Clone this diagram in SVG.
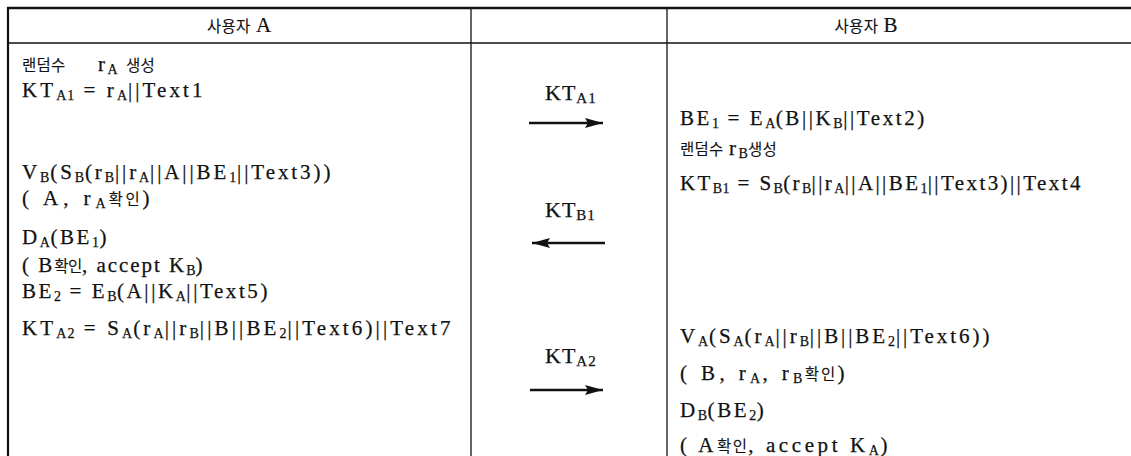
<svg xmlns="http://www.w3.org/2000/svg" width="1131" height="456" viewBox="0 0 1131 456">
<style>
.bg{fill:#fff}
.ln{stroke:#111;fill:none}
.t{font-family:"Liberation Serif","Noto Sans CJK KR",serif;font-size:21px;fill:#111;stroke:#111;stroke-width:0.25;letter-spacing:2.6px}
.k{font-family:"Noto Sans CJK KR",sans-serif;font-size:15.5px;letter-spacing:0.3px;stroke-width:0.1}
.s{font-size:14px;letter-spacing:0.5px}
.m{font-family:"Liberation Serif",serif;font-size:22px;fill:#111;stroke:#111;stroke-width:0.25;letter-spacing:1px}
.ms{font-size:15px}
.h{font-family:"Liberation Serif","Noto Sans CJK KR",serif;font-size:21px;fill:#111;stroke:#111;stroke-width:0.2}
.arr{stroke:#111;stroke-width:2.5;fill:none;marker-end:url(#ah)}
</style>
<defs>
<marker id="ah" markerUnits="userSpaceOnUse" markerWidth="20" markerHeight="12" refX="18" refY="5" orient="auto">
<path d="M0,0 L18,5 L0,10 L3,5 z" fill="#111"/>
</marker>
</defs>
<rect class="bg" x="0" y="0" width="1131" height="456"/>
<g id="table">
<line class="ln" x1="7" y1="8" x2="1131" y2="8" stroke-width="2.5"/>
<line class="ln" x1="7" y1="43" x2="1131" y2="43" stroke-width="1.5"/>
<line class="ln" x1="8" y1="7" x2="8" y2="456" stroke-width="2.2"/>
<line class="ln" x1="471" y1="8" x2="471" y2="456" stroke-width="1.3"/>
<line class="ln" x1="667" y1="8" x2="667" y2="456" stroke-width="1.3"/>
</g>
<g id="header-a">
<text class="h" x="239" y="32" text-anchor="middle"><tspan class="k" font-size="19">사용자</tspan> A</text>
</g>
<g id="header-b">
<text class="h" x="866" y="32" text-anchor="middle"><tspan class="k" font-size="19">사용자</tspan> B</text>
</g>
<g id="user-a">
<text class="t" x="22" y="71"><tspan class="k" font-size="15px">랜덤수</tspan><tspan x="98">r</tspan><tspan class="s" dy="3">A</tspan><tspan class="k" font-size="15px" x="126" dy="-3">생성</tspan></text>
<text class="t" x="22" y="97" textLength="183" lengthAdjust="spacing">KT<tspan class="s" dy="3">A1</tspan><tspan dy="-3"> = r</tspan><tspan class="s" dy="3">A</tspan><tspan dy="-3">||Text1</tspan></text>
<text class="t" x="22" y="179" textLength="311" lengthAdjust="spacing">V<tspan class="s" dy="3">B</tspan><tspan dy="-3">(S</tspan><tspan class="s" dy="3">B</tspan><tspan dy="-3">(r</tspan><tspan class="s" dy="3">B</tspan><tspan dy="-3">||r</tspan><tspan class="s" dy="3">A</tspan><tspan dy="-3">||A||BE</tspan><tspan class="s" dy="3">1</tspan><tspan dy="-3">||Text3))</tspan></text>
<text class="t" x="22" y="205" textLength="130" lengthAdjust="spacing">( A, r<tspan class="s" dy="3">A</tspan><tspan class="k" dy="-3">확인</tspan>)</text>
<text class="t" x="22" y="244">D<tspan class="s" dy="3">A</tspan><tspan dy="-3">(BE</tspan><tspan class="s" dy="3">1</tspan><tspan dy="-3">)</tspan></text>
<text class="t" x="22" y="272" textLength="183" lengthAdjust="spacing">( B<tspan class="k">확인</tspan>, accept K<tspan class="s" dy="3">B</tspan><tspan dy="-3">)</tspan></text>
<text class="t" x="22" y="298">BE<tspan class="s" dy="3">2</tspan><tspan dy="-3"> = E</tspan><tspan class="s" dy="3">B</tspan><tspan dy="-3">(A||K</tspan><tspan class="s" dy="3">A</tspan><tspan dy="-3">||Text5)</tspan></text>
<text class="t" x="22" y="335" textLength="431" lengthAdjust="spacing">KT<tspan class="s" dy="3">A2</tspan><tspan dy="-3"> =  S</tspan><tspan class="s" dy="3">A</tspan><tspan dy="-3">(r</tspan><tspan class="s" dy="3">A</tspan><tspan dy="-3">||r</tspan><tspan class="s" dy="3">B</tspan><tspan dy="-3">||B||BE</tspan><tspan class="s" dy="3">2</tspan><tspan dy="-3">||Text6)||Text7</tspan></text>
</g>
<g id="user-b">
<text class="t" x="680" y="125">BE<tspan class="s" dy="3">1</tspan><tspan dy="-3"> = E</tspan><tspan class="s" dy="3">A</tspan><tspan dy="-3">(B||K</tspan><tspan class="s" dy="3">B</tspan><tspan dy="-3">||Text2)</tspan></text>
<text class="t" x="680" y="155"><tspan class="k" font-size="15px">랜덤수</tspan><tspan x="729">r</tspan><tspan class="s" dy="3">B</tspan><tspan class="k" font-size="15px" x="748" dy="-3">생성</tspan></text>
<text class="t" x="680" y="190" textLength="403" lengthAdjust="spacing">KT<tspan class="s" dy="3">B1</tspan><tspan dy="-3"> =  S</tspan><tspan class="s" dy="3">B</tspan><tspan dy="-3">(r</tspan><tspan class="s" dy="3">B</tspan><tspan dy="-3">||r</tspan><tspan class="s" dy="3">A</tspan><tspan dy="-3">||A||BE</tspan><tspan class="s" dy="3">1</tspan><tspan dy="-3">||Text3)||Text4</tspan></text>
<text class="t" x="680" y="343" textLength="312" lengthAdjust="spacing">V<tspan class="s" dy="3">A</tspan><tspan dy="-3">(S</tspan><tspan class="s" dy="3">A</tspan><tspan dy="-3">(r</tspan><tspan class="s" dy="3">A</tspan><tspan dy="-3">||r</tspan><tspan class="s" dy="3">B</tspan><tspan dy="-3">||B||BE</tspan><tspan class="s" dy="3">2</tspan><tspan dy="-3">||Text6))</tspan></text>
<text class="t" x="680" y="380" textLength="167" lengthAdjust="spacing">( B, r<tspan class="s" dy="3">A</tspan><tspan dy="-3">, r</tspan><tspan class="s" dy="3">B</tspan><tspan class="k" dy="-3">확인</tspan>)</text>
<text class="t" x="680" y="417">D<tspan class="s" dy="3">B</tspan><tspan dy="-3">(BE</tspan><tspan class="s" dy="3">2</tspan><tspan dy="-3">)</tspan></text>
<text class="t" x="680" y="452" textLength="210" lengthAdjust="spacing">( A<tspan class="k">확인</tspan>, accept K<tspan class="s" dy="3">A</tspan><tspan dy="-3">)</tspan></text>
</g>
<g id="msg-labels">
<text class="m" x="545" y="100">KT<tspan class="ms" dy="3">A1</tspan></text>
<text class="m" x="545" y="217">KT<tspan class="ms" dy="3">B1</tspan></text>
<text class="m" x="545" y="363">KT<tspan class="ms" dy="3">A2</tspan></text>
</g>
<g id="connectors">
<line class="arr" x1="529" y1="123" x2="603" y2="123"/>
<line class="arr" x1="605" y1="243" x2="532" y2="243"/>
<line class="arr" x1="530" y1="390" x2="603" y2="390"/>
</g>
</svg>
